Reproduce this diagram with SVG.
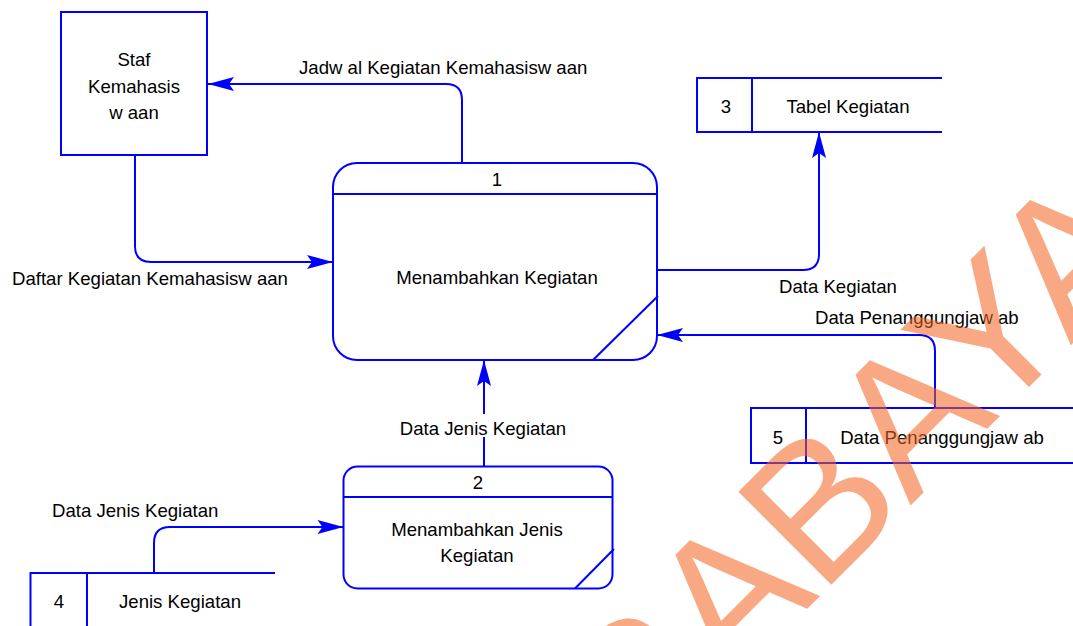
<svg xmlns="http://www.w3.org/2000/svg" width="1073" height="626" viewBox="0 0 1073 626">
<style>
.box{fill:none;stroke:#0000FF;stroke-width:2}
.ln{fill:none;stroke:#0000FF;stroke-width:2}
.t{font-family:"Liberation Sans",Arial,sans-serif;font-size:18.6px;fill:#000}
.c{text-anchor:middle}
.wm{font-family:"Liberation Sans",Arial,sans-serif;font-size:191px;fill:#F26522;fill-opacity:0.56}
</style>
<defs>
<marker id="arr" viewBox="-27 -8 28 16" refX="0" refY="0" markerWidth="28" markerHeight="16" markerUnits="userSpaceOnUse" orient="auto">
<path d="M0,0 L-26,-7 L-21,0 L-26,7 Z" fill="#0000FF"/>
</marker>
</defs>
<rect width="1073" height="626" fill="#fff"/>
<g id="staf">
<rect class="box" x="61" y="12" width="146" height="143"/>
<text class="t c" x="134" y="66">Staf</text>
<text class="t c" x="134" y="93">Kemahasis</text>
<text class="t c" x="134" y="119">w aan</text>
</g>
<g id="proc1">
<rect class="box" x="333" y="163" width="324" height="197" rx="24" ry="24"/>
<line class="box" x1="333" y1="194" x2="657" y2="194"/>
<line class="box" x1="658" y1="296" x2="593" y2="360"/>
<text class="t c" x="497" y="186">1</text>
<text class="t c" x="497" y="284">Menambahkan Kegiatan</text>
</g>
<g id="store3">
<path class="box" d="M942 78 H697 V132 H942 M752 78 V132"/>
<text class="t c" x="726" y="113">3</text>
<text class="t c" x="848" y="113">Tabel Kegiatan</text>
</g>
<g id="store5">
<path class="box" d="M1075 408 H751 V463 H1075 M806 408 V463"/>
<text class="t c" x="778" y="444">5</text>
<text class="t c" x="942" y="444">Data Penanggungjaw ab</text>
</g>
<g id="proc2">
<rect class="box" x="343.5" y="466.5" width="269" height="122" rx="14" ry="14"/>
<line class="box" x1="343.5" y1="497" x2="612.5" y2="497"/>
<line class="box" x1="614" y1="549" x2="575" y2="588.5"/>
<text class="t c" x="478" y="489">2</text>
<text class="t c" x="477" y="536">Menambahkan Jenis</text>
<text class="t c" x="477" y="562">Kegiatan</text>
</g>
<g id="store4">
<path class="box" d="M275 573 H30.5 V630 M87 573 V630"/>
<text class="t c" x="59" y="608">4</text>
<text class="t c" x="180" y="608">Jenis Kegiatan</text>
</g>
<g id="connectors">
<path class="ln" d="M462 163 V100 Q462 84 446 84 H208" marker-end="url(#arr)"/>
<path class="ln" d="M135 155 V246 Q135 262 151 262 H333" marker-end="url(#arr)"/>
<path class="ln" d="M657 270 H803 Q819 270 819 254 V132" marker-end="url(#arr)"/>
<path class="ln" d="M935 408 V351 Q935 335 919 335 H657" marker-end="url(#arr)"/>
<path class="ln" d="M484 466.5 V437 M484 414 V360" marker-end="url(#arr)"/>
<path class="ln" d="M154 573 V543 Q154 527 170 527 H343.5" marker-end="url(#arr)"/>
</g>
<g id="labels">
<text class="t" x="299" y="74">Jadw al Kegiatan Kemahasisw aan</text>
<text class="t" x="12" y="285">Daftar Kegiatan Kemahasisw aan</text>
<text class="t" x="779" y="293">Data Kegiatan</text>
<text class="t" x="815" y="324">Data Penanggungjaw ab</text>
<text class="t c" x="483" y="435">Data Jenis Kegiatan</text>
<text class="t" x="52" y="517">Data Jenis Kegiatan</text>
</g>
<text class="wm" transform="translate(445,971) rotate(-45)">SURABAYA</text>
</svg>
